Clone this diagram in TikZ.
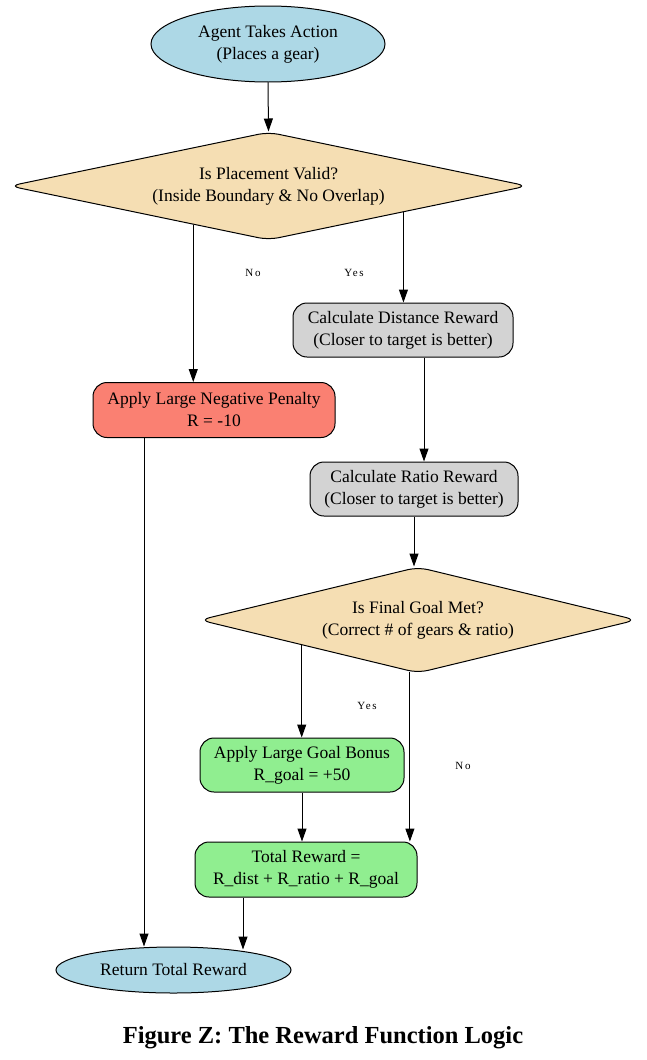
\documentclass[tikz,border=0pt]{standalone}
\usepackage{fontspec}
\setmainfont{Liberation Serif}
\usetikzlibrary{shapes.geometric,arrows.meta,calc}
\definecolor{lblue}{HTML}{ADD8E6}
\definecolor{wheat}{HTML}{F5DEB3}
\definecolor{lgray}{HTML}{D3D3D3}
\definecolor{salmon}{HTML}{FA8072}
\definecolor{lgreen}{HTML}{90EE90}
\begin{document}
\begin{tikzpicture}[x=1pt,y=-1pt,
  base/.style={draw=black, line width=1pt, inner sep=0pt, align=center, font=\fontsize{17.5}{22}\selectfont},
  oval/.style={base, ellipse, fill=lblue},
  decision/.style={base, diamond, fill=wheat, rounded corners=10pt},
  proc/.style={base, rectangle, rounded corners=14pt},
  arr/.style={line width=1pt, -{Triangle[length=13pt,width=9pt]}},
  lbl/.style={inner sep=0pt, font=\fontsize{11}{13}\selectfont\addfontfeatures{LetterSpace=15}},
]
\useasboundingbox (0,0) rectangle (646,1060);

\node[oval, minimum width=234pt, minimum height=76pt] (start) at (268,44) {Agent Takes Action\\(Places a gear)};
\node[decision, shape aspect=4.8, minimum width=518pt, minimum height=108pt] (d1) at (268.5,186) {Is Placement Valid?\\(Inside Boundary \& No Overlap)};
\node[proc, fill=lgray, minimum width=220pt, minimum height=54pt] (dist) at (403,330) {Calculate Distance Reward\\(Closer to target is better)};
\node[proc, fill=salmon, minimum width=242pt, minimum height=55pt] (pen) at (214,410) {Apply Large Negative Penalty\\R = -10};
\node[proc, fill=lgray, minimum width=208pt, minimum height=54pt] (ratio) at (414,489) {Calculate Ratio Reward\\(Closer to target is better)};
\node[decision, shape aspect=4.1, minimum width=437pt, minimum height=106pt] (d2) at (418,620) {Is Final Goal Met?\\(Correct \# of gears \& ratio)};
\node[proc, fill=lgreen, minimum width=204pt, minimum height=54pt] (bonus) at (302,765) {Apply Large Goal Bonus\\R\_goal = +50};
\node[proc, fill=lgreen, minimum width=222pt, minimum height=55pt] (total) at (306,869.5) {Total Reward =\\R\_dist + R\_ratio + R\_goal};
\node[oval, minimum width=235pt, minimum height=46pt] (ret) at (173.5,970) {Return Total Reward};

\node[lbl] (lno1) at (253,273) {No};
\node[lbl] (lyes1) at (354,273) {Yes};
\node[lbl] (lyes2) at (367,706) {Yes};
\node[lbl] (lno2) at (463,766) {No};

\node[font=\fontsize{24.5}{28}\selectfont\bfseries] (title) at (323,1038) {Figure Z: The Reward Function Logic};

\draw[arr] (start.south) -- (d1.north);
\coordinate (p1) at ($(d1.south)!0.29!(d1.west)$);
\draw[arr] (p1) -- (p1 |- pen.north);
\coordinate (p2) at ($(d1.south)!0.52!(d1.east)$);
\draw[arr] (p2) -- (p2 |- dist.north);
\draw[arr] ([xshift=21pt]dist.south) -- ([xshift=21pt]dist.south |- ratio.north);
\draw[arr] (ratio.south) -- (ratio.south |- d2.north);
\coordinate (p3) at ($(d2.south)!0.531!(d2.west)$);
\draw[arr] (p3) -- (p3 |- bonus.north);
\coordinate (p4) at ($(d2.south)!0.037!(d2.west)$);
\draw[arr] (p4) -- (p4 |- total.north);
\draw[arr] (bonus.south) -- (bonus.south |- total.north);
\draw[arr, shorten >=-3pt] ([xshift=-63pt]total.south) -- ([xshift=-63pt]total.south |- ret.north);
\draw[arr] ([xshift=-70pt]pen.south) -- ([xshift=-70pt]pen.south |- ret.north);
\end{tikzpicture}
\end{document}
